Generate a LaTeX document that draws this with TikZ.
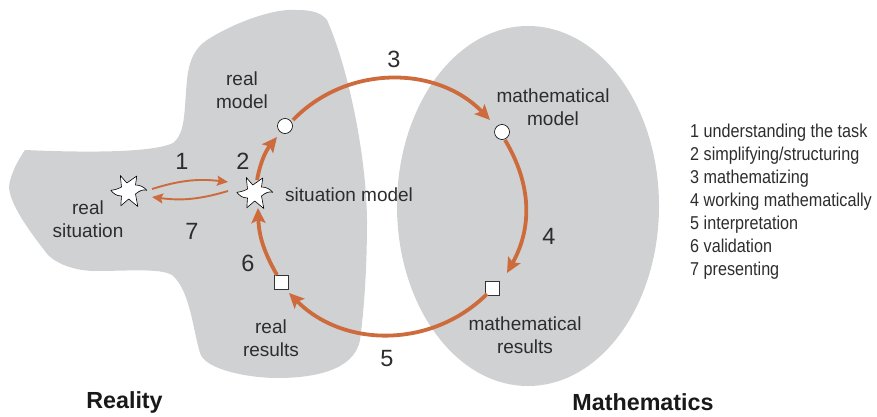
\documentclass[tikz,border=0pt]{standalone}
\usepackage{fontspec}
\setmainfont{Liberation Sans}
\newfontfamily\legendfont[FakeStretch=0.87]{Liberation Sans}
\usepackage{xcolor}
\usepackage{tikz}
\usetikzlibrary{arrows.meta}
\usetikzlibrary{positioning}
\definecolor{blobgray}{RGB}{208,209,211}
\definecolor{rust}{RGB}{205,107,60}
\definecolor{inkgray}{RGB}{45,45,45}
\newcommand{\burstpath}{(-8.7,-15.5) -- (-2.2,-8) -- (7.8,-15) -- (6.5,-6) .. controls (11,-6) and (15,-4) .. (17.8,-0.7)
	.. controls (14,-2) and (10,0) .. (6.5,3) -- (8.8,15.5) -- (-0.3,8) -- (-8.2,14.8) -- (-7.5,5)
	.. controls (-13,5) and (-16,2) .. (-18.2,-0.7) .. controls (-15,-1) and (-11,-2) .. (-7.5,-4) -- cycle}
\tikzset{
	lbl/.style={font=\fontsize{19}{23}\selectfont,text=inkgray,align=center,inner sep=0pt},
	num/.style={font=\fontsize{23.5}{26}\selectfont,text=inkgray,inner sep=0pt},
	head/.style={font=\fontsize{23.3}{26}\selectfont\bfseries,text=black!90,inner sep=0pt},
	circ/.style={draw=black,circle,fill=white,minimum size=15pt,inner sep=0pt,line width=0.6pt},
	sq/.style={draw=black!80,rectangle,fill=white,minimum size=14pt,inner sep=0pt,line width=0.8pt},
	burst/.style={circle,minimum size=30pt,inner sep=0pt},
	burstline/.style={draw=black,fill=white,line width=0.6pt,line join=round},
	bigarrow/.style={-{Stealth[length=15pt,width=14pt,inset=3pt]},draw=rust,line width=3.8pt},
	thinarrow/.style={-{Stealth[length=11pt,width=10pt,inset=2pt]},draw=rust,line width=1.9pt}
}
\begin{document}
\begin{tikzpicture}[x=1pt,y=-1pt]
	\useasboundingbox (0,0) rectangle (877,417);
	% reality blob
	\fill[blobgray] (25,150) .. controls (70,152) and (150,154) .. (173,143)
		.. controls (186,133) and (184,110) .. (187,80)
		.. controls (189,60) and (195,48) .. (207,40)
		.. controls (235,22) and (275,8) .. (297,10)
		.. controls (315,10) and (322,14) .. (327,20)
		.. controls (347,65) and (366,150) .. (367,220)
		.. controls (367,270) and (364,310) .. (360,340)
		.. controls (354,372) and (310,378) .. (277,378)
		.. controls (250,378) and (205,370) .. (200,353)
		.. controls (193,330) and (190,290) .. (172,275)
		.. controls (160,268) and (130,271) .. (93,271)
		.. controls (70,270) and (55,262) .. (48,255)
		.. controls (30,232) and (10,205) .. (9,187)
		.. controls (10,175) and (18,160) .. (25,150) -- cycle;
	% mathematics blob
	\fill[blobgray] (528,206) ellipse [x radius=131,y radius=180];
	% nodes of the cycle
	\node[burst] (situation) at (129,191) {};
	\node[burst] (sitmodel) at (255,193) {};
	\node[circ] (realmodel) at (285,126) {};
	\node[circ] (mathmodel) at (502,132) {};
	\node[sq] (mathresults) at (492,288) {};
	\node[sq] (realresults) at (281,282) {};
	% arrows
	\path
		([xshift=8pt,yshift=6pt]realmodel.center) edge[bigarrow,bend left=46] ([xshift=-12pt,yshift=12pt]mathmodel.center)
		([xshift=3pt,yshift=-8pt]mathmodel.center) edge[bigarrow,bend left=30] ([xshift=15pt,yshift=15pt]mathresults.center)
		([xshift=-5pt,yshift=-6pt]mathresults.center) edge[bigarrow,bend left=45] ([xshift=8pt,yshift=-11pt]realresults.center)
		([xshift=-4pt,yshift=7pt]realresults.center) edge[bigarrow,bend left=14] ([xshift=3pt,yshift=-15pt]sitmodel.center)
		([xshift=2pt,yshift=13pt]sitmodel.center) edge[bigarrow,bend left=14] ([xshift=-8pt,yshift=-11pt]realmodel.center);
	\path
		([xshift=23pt,yshift=2pt]situation.center) edge[thinarrow,bend left=12] ([xshift=-27pt,yshift=11pt]sitmodel.center)
		([xshift=-27pt,yshift=2pt]sitmodel.center) edge[thinarrow,bend left=12] ([xshift=23pt,yshift=-6pt]situation.center);
	\draw[burstline,shift={(situation)}] \burstpath;
	\draw[burstline,shift={(sitmodel)}] \burstpath;
	% labels
	\node[lbl] (lreal1) at (88,219.5) {real\\situation};
	\node[lbl] (lreal2) at (242,90.5) {real\\model};
	\node[lbl] (lsit) [anchor=west] at (285,195) {situation model};
	\node[lbl] (lmath1) at (553,107) {mathematical\\model};
	\node[lbl] (lmath2) at (525,335.5) {mathematical\\results};
	\node[lbl] (lreal3) at (271,338.5) {real\\results};
	\node[num] (n1) at (182,161) {1};
	\node[num] (n2) at (243,161) {2};
	\node[num] (n3) at (394,59) {3};
	\node[num] (n4) at (549,236) {4};
	\node[num] (n5) at (387,359) {5};
	\node[num] (n6) at (248,263) {6};
	\node[num] (n7) at (192,231) {7};
	\node[head] (reality) at (124.5,402) {Reality};
	\node[head] (mathematics) at (643,402) {Mathematics};
	\node[anchor=west,align=left,inner sep=0pt,text=inkgray,font=\legendfont\fontsize{18.6}{23}\selectfont] (legend) at (690,201.5) {1 understanding the task\\2 simplifying/structuring\\3 mathematizing\\4 working mathematically\\5 interpretation\\6 validation\\7 presenting};
\end{tikzpicture}
\end{document}
